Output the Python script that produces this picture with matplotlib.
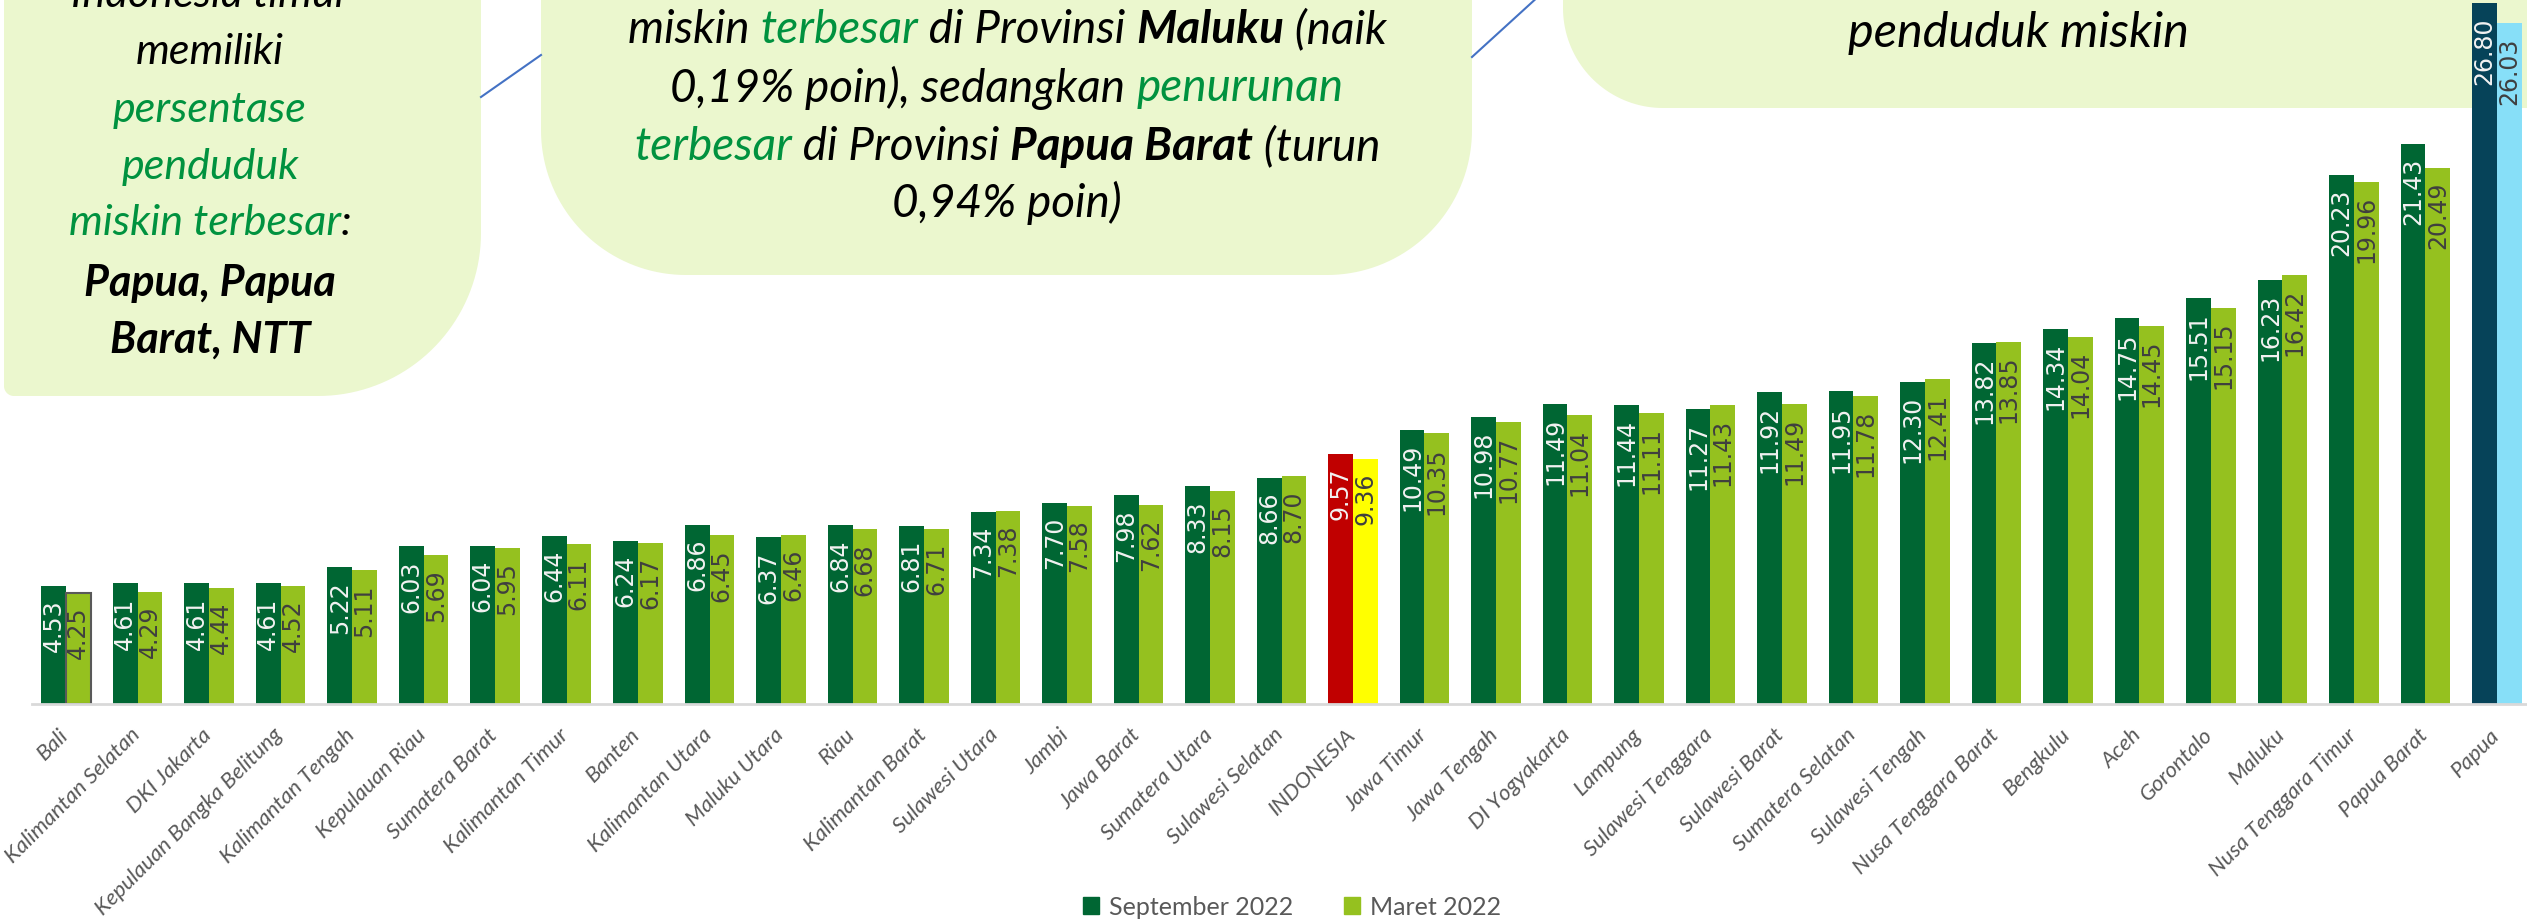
import numpy as np
import matplotlib
matplotlib.use('Agg')
import matplotlib.pyplot as plt
from matplotlib.patches import Polygon, Patch
from matplotlib.transforms import ScaledTranslation

plt.rcParams['font.family'] = ['Lato', 'DejaVu Sans']

provinces = ["Bali", "Kalimantan Selatan", "DKI Jakarta", "Kepulauan Bangka Belitung",
             "Kalimantan Tengah", "Kepulauan Riau", "Sumatera Barat", "Kalimantan Timur",
             "Banten", "Kalimantan Utara", "Maluku Utara", "Riau", "Kalimantan Barat",
             "Sulawesi Utara", "Jambi", "Jawa Barat", "Sumatera Utara", "Sulawesi Selatan",
             "INDONESIA", "Jawa Timur", "Jawa Tengah", "DI Yogyakarta", "Lampung",
             "Sulawesi Tenggara", "Sulawesi Barat", "Sumatera Selatan", "Sulawesi Tengah",
             "Nusa Tenggara Barat", "Bengkulu", "Aceh", "Gorontalo", "Maluku",
             "Nusa Tenggara Timur", "Papua Barat", "Papua"]
sep_2022 = [4.53, 4.61, 4.61, 4.61, 5.22, 6.03, 6.04, 6.44, 6.24, 6.86, 6.37, 6.84,
            6.81, 7.34, 7.70, 7.98, 8.33, 8.66, 9.57, 10.49, 10.98, 11.49, 11.44, 11.27,
            11.92, 11.95, 12.30, 13.82, 14.34, 14.75, 15.51, 16.23, 20.23, 21.43, 26.80]
mar_2022 = [4.25, 4.29, 4.44, 4.52, 5.11, 5.69, 5.95, 6.11, 6.17, 6.45, 6.46, 6.68,
            6.71, 7.38, 7.58, 7.62, 8.15, 8.70, 9.36, 10.35, 10.77, 11.04, 11.11, 11.43,
            11.49, 11.78, 12.41, 13.85, 14.04, 14.45, 15.15, 16.42, 19.96, 20.49, 26.03]
series_names = ["September 2022", "Maret 2022"]

DARK = '#006633'
LIGHT = '#95C11F'
GREEN_TXT = '#00923F'
BOX = '#EBF7CE'

W, H = 2527, 921
fig = plt.figure(figsize=(W / 100, H / 100), dpi=100)

# overlay axes in pixel coordinates (y down) for callout boxes
ov = fig.add_axes([0, 0, 1, 1], zorder=0)
ov.set_xlim(0, W)
ov.set_ylim(H, 0)
ov.axis('off')

ax = fig.add_axes([32 / W, 217 / H, 1 - 32 / W, 704 / H], zorder=1)
ax.patch.set_alpha(0)

x = np.arange(len(provinces))
bw = 0.345
dark_cols = [DARK] * len(x)
light_cols = [LIGHT] * len(x)
i_indo = provinces.index("INDONESIA")
i_pap = provinces.index("Papua")
dark_cols[i_indo], light_cols[i_indo] = '#C00000', '#FFFF00'
dark_cols[i_pap], light_cols[i_pap] = '#064359', '#87DFF8'

b1 = ax.bar(x - bw / 2, sep_2022, bw, color=dark_cols)
b2 = ax.bar(x + bw / 2, mar_2022, bw, color=light_cols)
b2[0].set_edgecolor('#595959')
b2[0].set_linewidth(1.5)

for rect, v in zip(b1, sep_2022):
    ax.annotate(f'{v:.2f}', (rect.get_x() + rect.get_width() / 2, v),
                xytext=(0, -10), textcoords='offset points', rotation=90,
                ha='center', va='top', fontsize=17, color='#F2F2F2',
                family='DejaVu Sans')
for rect, v in zip(b2, mar_2022):
    ax.annotate(f'{v:.2f}', (rect.get_x() + rect.get_width() / 2, v),
                xytext=(0, -10), textcoords='offset points', rotation=90,
                ha='center', va='top', fontsize=17, color='#3F3F3F',
                family='DejaVu Sans')

ax.set_xlim(-0.476, 34.42)
ax.set_ylim(0, 26.92)
ax.set_yticks([])
for s in ['top', 'right', 'left']:
    ax.spines[s].set_visible(False)
ax.spines['bottom'].set_color('#D9D9D9')
ax.spines['bottom'].set_linewidth(2)
ax.set_xticks(x)
ax.set_xticklabels(provinces, rotation=45, ha='right', rotation_mode='anchor',
                   fontsize=16, style='italic', color='#595959')
ax.tick_params(axis='x', length=0, pad=15)
for lab in ax.get_xticklabels():
    lab.set_transform(lab.get_transform() + ScaledTranslation(-8 / 100, 0, fig.dpi_scale_trans))

fig.legend([Patch(color=DARK), Patch(color=LIGHT)], series_names,
           loc='center', bbox_to_anchor=(1292 / W, 1 - 907 / H), ncol=2,
           frameon=False, fontsize=18, labelcolor='#595959',
           handlelength=0.65, handleheight=0.65, columnspacing=2.0, handletextpad=0.4)


def box_poly(x0, x1, y_top, y_bot, r_left, r_right):
    t = np.linspace(0, np.pi / 2, 40)
    pts = [(x0, y_top)]
    cx, cy = x0 + r_left, y_bot - r_left
    pts += list(zip(cx - r_left * np.cos(t), cy + r_left * np.sin(t)))
    cx, cy = x1 - r_right, y_bot - r_right
    pts += list(zip(cx + r_right * np.sin(t), cy + r_right * np.cos(t)))
    pts.append((x1, y_top))
    return Polygon(pts, closed=True, facecolor=BOX, edgecolor='none')


ov.add_patch(box_poly(4, 481, -60, 396, 10, 163))
ov.add_patch(box_poly(541, 1472, -60, 275, 145, 145))
ov.add_patch(box_poly(1563, 2560, -60, 108, 100, 0))

ov.plot([481, 541], [97, 55], color='#4472C4', lw=1.5)
ov.plot([1472, 1540], [57, -5], color='#4472C4', lw=1.5)

renderer = fig.canvas.get_renderer()


def seg_width(txt, weight, fs):
    t1 = ov.text(0, 0, txt + 'l', fontsize=fs, style='italic', weight=weight)
    t2 = ov.text(0, 0, 'l', fontsize=fs, style='italic', weight=weight)
    w = t1.get_window_extent(renderer).width - t2.get_window_extent(renderer).width
    t1.remove()
    t2.remove()
    return w


def rich_line(xc, y, segs, fs):
    widths = [seg_width(s, w, fs) for s, c, w in segs]
    xs = xc - sum(widths) / 2
    for (s, c, w), wd in zip(segs, widths):
        ov.text(xs, y, s, fontsize=fs, style='italic', weight=w, color=c,
                ha='left', va='center')
        xs += wd


K = 'black'
G = GREEN_TXT
n, b = 'normal', 'bold'
F1, F2, F3 = 31, 33, 35
rich_line(210, -5, [("Indonesia timur", K, n)], F1)
rich_line(210, 52, [("memiliki", K, n)], F1)
rich_line(210, 110, [("persentase", G, n)], F1)
rich_line(210, 167, [("penduduk", G, n)], F1)
rich_line(210, 223, [("miskin terbesar", G, n), (":", K, n)], F1)
rich_line(210, 283, [("Papua, Papua", K, b)], F1)
rich_line(210, 340, [("Barat, NTT", K, b)], F1)

rich_line(1007, 30, [("miskin ", K, n), ("terbesar", G, n), (" di Provinsi ", K, n),
                     ("Maluku", K, b), (" (naik", K, n)], F2)
rich_line(1007, 88, [("0,19% poin), sedangkan ", K, n), ("penurunan", G, n)], F2)
rich_line(1007, 147, [("terbesar", G, n), (" di Provinsi ", K, n), ("Papua Barat", K, b),
                      (" (turun", K, n)], F2)
rich_line(1007, 203, [("0,94% poin)", K, n)], F2)

rich_line(2018, 33, [("penduduk miskin", K, n)], F3)

fig.savefig('out.png', dpi=100)
